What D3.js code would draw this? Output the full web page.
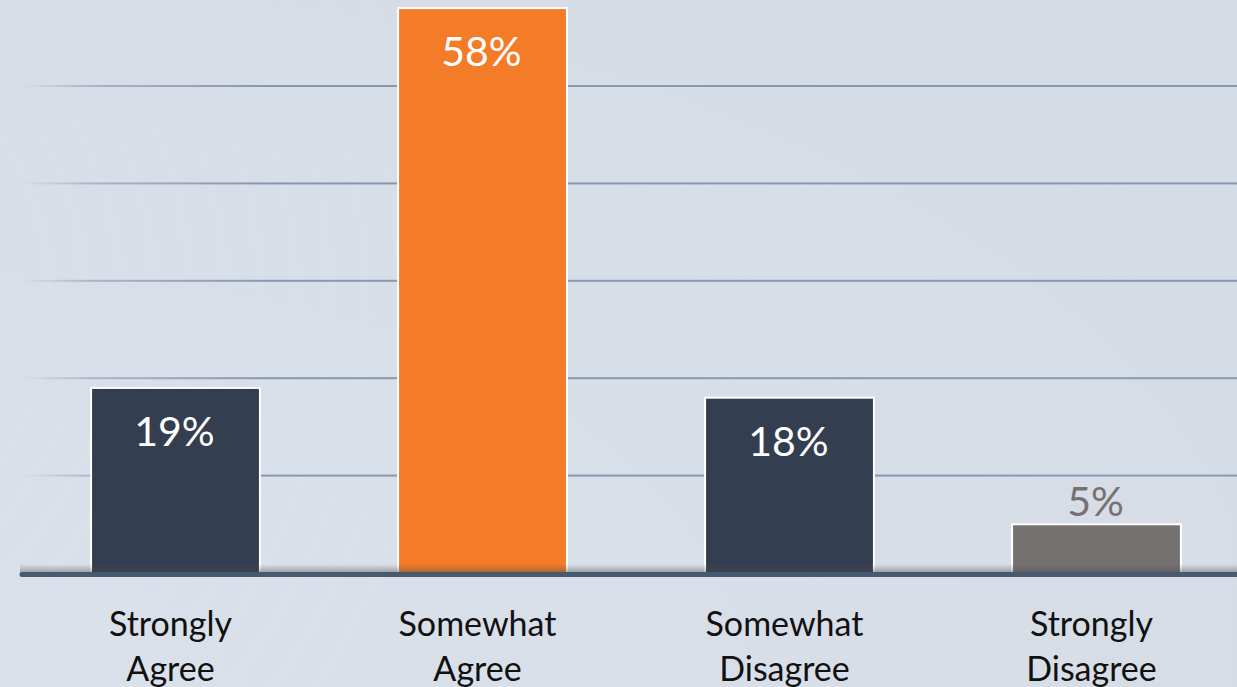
<!DOCTYPE html>
<html><head><meta charset="utf-8">
<script src="https://cdn.jsdelivr.net/npm/d3@7"></script>
<style>html,body{margin:0;padding:0;overflow:hidden;background:#d6dde7;}</style>
</head><body>
<script>
const categories = [["Strongly","Agree"],["Somewhat","Agree"],["Somewhat","Disagree"],["Strongly","Disagree"]];
const values = [19, 58, 18, 5];
const barColors = ["#333e50", "#f47b27", "#333e50", "#767171"];
const labelColors = ["#ffffff", "#ffffff", "#ffffff", "#767171"];
const labelInside = [true, true, true, false];
const gridTicks = [10, 20, 30, 40, 50];

const W = 1237, H = 687;
const svg = d3.select("body").append("svg").attr("width", W).attr("height", H);
const defs = svg.append("defs");

const bg = defs.append("radialGradient").attr("id","bg").attr("cx","0%").attr("cy","100%").attr("r","120%");
bg.append("stop").attr("offset","0%").attr("stop-color","#dbe1ea");
bg.append("stop").attr("offset","100%").attr("stop-color","#d5dce6");
svg.append("rect").attr("width",W).attr("height",H).attr("fill","url(#bg)");
// faint arcs
const arcs = svg.append("g").attr("fill","none").attr("stroke","#ffffff").attr("stroke-opacity",0.045);
d3.range(0,12).forEach(i=>{
  arcs.append("circle").attr("cx",-250).attr("cy",300).attr("r",300+i*35).attr("stroke-width",8);
});

const gridGrad = defs.append("linearGradient").attr("id","gridGrad").attr("x1","0").attr("x2","1").attr("y1","0").attr("y2","0");
gridGrad.append("stop").attr("offset","0").attr("stop-color","#8898b0").attr("stop-opacity",0);
gridGrad.append("stop").attr("offset","0.06").attr("stop-color","#8898b0").attr("stop-opacity",0.6);
gridGrad.append("stop").attr("offset","0.2").attr("stop-color","#8898b0").attr("stop-opacity",1);
gridGrad.append("stop").attr("offset","1").attr("stop-color","#8898b0").attr("stop-opacity",1);

const shadowGrad = defs.append("linearGradient").attr("id","shadowGrad").attr("x1","0").attr("x2","0").attr("y1","0").attr("y2","1");
shadowGrad.append("stop").attr("offset","0").attr("stop-color","#555").attr("stop-opacity",0);
shadowGrad.append("stop").attr("offset","1").attr("stop-color","#444").attr("stop-opacity",0.45);

const x = d3.scaleBand().domain(d3.range(categories.length)).range([22, 1250]).paddingInner(0.45).paddingOuter(0.225);
const y = d3.scaleLinear().domain([0, 60]).range([573, 573 - 9.74*60]);

// gridlines
svg.append("g").selectAll("rect").data(gridTicks).join("rect")
  .attr("x", 22).attr("width", W - 22)
  .attr("y", d => y(d) - 1).attr("height", 2)
  .attr("fill", "url(#gridGrad)");

// bars
svg.append("g").selectAll("rect").data(values).join("rect")
  .attr("x", (d,i) => x(i)).attr("width", x.bandwidth())
  .attr("y", d => y(d)).attr("height", d => y(0) - y(d))
  .attr("fill", (d,i) => barColors[i])
  .attr("stroke", "#ffffff").attr("stroke-width", 2);

// shadow above axis
svg.append("rect").attr("x", 20).attr("width", W-20).attr("y", y(0)-9).attr("height", 9).attr("fill","url(#shadowGrad)");
// axis line
svg.append("line").attr("x1", 22).attr("x2", W).attr("y1", y(0)+1.5).attr("y2", y(0)+1.5)
  .attr("stroke", "#465a72").attr("stroke-width", 5).attr("stroke-linecap","round");

// value labels
svg.append("g").selectAll("text").data(values).join("text")
  .attr("x", (d,i) => x(i) + x.bandwidth()/2 - 1)
  .attr("y", (d,i) => labelInside[i] ? y(d) + 58 : y(d) - 8)
  .attr("text-anchor","middle")
  .attr("font-family","Lato, 'Open Sans', sans-serif")
  .attr("font-size", 41)
  .attr("fill", (d,i) => labelColors[i])
  .text(d => d + "%");

// category labels
const cat = svg.append("g").selectAll("text").data(categories).join("text")
  .attr("x", (d,i) => x(i) + x.bandwidth()/2 - 5)
  .attr("text-anchor","middle")
  .attr("font-family","Lato, 'Open Sans', sans-serif")
  .attr("font-size", 34)
  .attr("fill", "#111111");
cat.each(function(d){
  const t = d3.select(this);
  d.forEach((line, j) => {
    t.append("tspan").attr("x", t.attr("x")).attr("y", 636 + j*45).text(line);
  });
});
</script>
</body></html>
